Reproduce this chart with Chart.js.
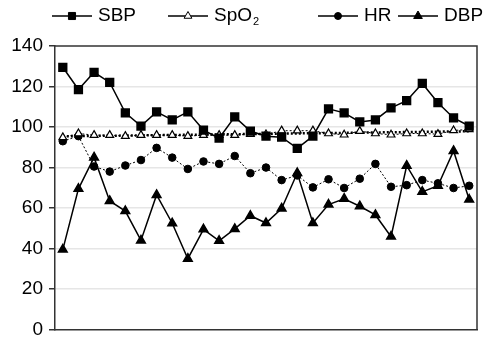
<!DOCTYPE html>
<html>
<head>
<meta charset="utf-8">
<script src="https://cdn.jsdelivr.net/npm/chart.js@4/dist/chart.umd.min.js"></script>
<style>
  html, body { margin: 0; padding: 0; background: #fff; }
  #wrap { width: 485px; height: 347px; }
</style>
</head>
<body>
<div id="wrap"><canvas id="chart" width="485" height="347"></canvas></div>
<script>
// categories (measurement points, no visible labels)
const labels = ['1','2','3','4','5','6','7','8','9','10','11','12','13','14','15','16','17','18','19','20','21','22','23','24','25','26','27'];

// series values
const sbp  = [129.5,118.5,127,122,107,100.5,107.5,103.5,107.5,98.5,94.5,105,98,95.5,95,89.5,95.5,109,107,102.5,103.5,109.5,113,121.5,112,104.5,100.5];
const spo2 = [94.9,96.8,96,96,95.5,96,96,96,95.5,96,96,96,96.5,96.3,98.2,98.2,98.2,96.8,96.2,98,96.8,96.2,96.8,96.8,96.5,98.3,98.8];
const hr   = [93,95.5,80.5,78,81,83.7,89.7,84.9,79.3,83,81.8,85.7,77.2,80,73.8,76.1,70.2,74.2,69.9,74.5,81.8,70.5,71.3,73.8,72.2,69.9,71];
const dbp  = [39.5,69.5,85,63.5,58.5,44,66.5,52.5,35,49.5,43.8,49.7,56.2,52.6,59.8,77.3,52.6,61.7,64.6,60.9,56.6,45.9,80.9,68,71,88.2,64.2];
// SpO2 trend line: only its two end values
const trend = [95.4,null,null,null,null,null,null,null,null,null,null,null,null,null,null,null,null,null,null,null,null,null,null,null,null,null,97.9];

// y axis ticks
const yTicks = [0, 20, 40, 60, 80, 100, 120, 140];

const FONT = '"Liberation Sans", Arial, sans-serif';

// legend entries drawn on the canvas (line + marker + text)
const legendItems = [
  { text: 'SBP', sub: '', x: 52, style: 'rect', radius: 5, fill: '#000' },
  { text: 'SpO', sub: '2', x: 168, style: 'triangle', radius: 4.5, fill: '#fff' },
  { text: 'HR', sub: '', x: 318, style: 'circle', radius: 3.5, fill: '#000' },
  { text: 'DBP', sub: '', x: 398, style: 'triangle', radius: 5, fill: '#000' }
];

const legendPlugin = {
  id: 'customLegend',
  afterDraw(chart) {
    const ctx = chart.ctx;
    const y = 16;
    ctx.save();
    legendItems.forEach(it => {
      ctx.strokeStyle = '#000';
      ctx.lineWidth = 1.5;
      ctx.setLineDash([]);
      ctx.beginPath();
      ctx.moveTo(it.x, y);
      ctx.lineTo(it.x + 40, y);
      ctx.stroke();
      ctx.fillStyle = it.fill;
      ctx.lineWidth = 1;
      Chart.helpers.drawPoint(ctx, { pointStyle: it.style, radius: it.radius, rotation: 0, borderWidth: 1 }, it.x + 20, y);
      ctx.fillStyle = '#000';
      ctx.font = '19px ' + FONT;
      ctx.textBaseline = 'middle';
      ctx.textAlign = 'left';
      const tx = it.x + 46;
      ctx.fillText(it.text, tx, y);
      if (it.sub) {
        const w = ctx.measureText(it.text).width;
        ctx.font = '11px ' + FONT;
        ctx.fillText(it.sub, tx + w + 1, y + 6);
      }
    });
    ctx.restore();
  }
};

const boxPlugin = {
  id: 'plotBox',
  afterDatasetsDraw(chart) {
    const a = chart.chartArea;
    const ctx = chart.ctx;
    ctx.save();
    ctx.strokeStyle = '#333';
    ctx.lineWidth = 1.5;
    ctx.beginPath();
    ctx.moveTo(a.left, a.top);
    ctx.lineTo(a.right, a.top);
    ctx.lineTo(a.right, a.bottom);
    ctx.stroke();
    ctx.restore();
  }
};

new Chart(document.getElementById('chart').getContext('2d'), {
  type: 'line',
  data: {
    labels: labels,
    datasets: [
      {
        label: 'SBP', data: sbp,
        borderColor: '#000', borderWidth: 1.5,
        pointStyle: 'rect', pointRadius: 5.5,
        pointBackgroundColor: '#000', pointBorderColor: '#000',
        tension: 0
      },
      {
        label: 'SpO2', data: spo2,
        borderColor: '#000', borderWidth: 1, borderDash: [2, 2],
        pointStyle: 'triangle', pointRadius: 4.5, pointBorderWidth: 1.2,
        pointBackgroundColor: '#fff', pointBorderColor: '#000',
        tension: 0
      },
      {
        label: 'trend', data: trend, spanGaps: true,
        borderColor: '#000', borderWidth: 2.5, borderDash: [2, 2],
        pointRadius: 0, tension: 0
      },
      {
        label: 'HR', data: hr,
        borderColor: '#000', borderWidth: 1, borderDash: [2, 2],
        pointStyle: 'circle', pointRadius: 3.8,
        pointBackgroundColor: '#000', pointBorderColor: '#000',
        tension: 0
      },
      {
        label: 'DBP', data: dbp,
        borderColor: '#000', borderWidth: 1.5,
        pointStyle: 'triangle', pointRadius: 5,
        pointBackgroundColor: '#000', pointBorderColor: '#000',
        tension: 0
      }
    ]
  },
  options: {
    responsive: false,
    animation: false,
    layout: { padding: { top: 46, right: 8, bottom: 9, left: 0 } },
    plugins: {
      legend: { display: false },
      tooltip: { enabled: false }
    },
    scales: {
      x: {
        offset: true,
        ticks: { display: false },
        grid: { display: false },
        border: { display: true, color: '#333', width: 1.5 },
        afterFit(scale) { scale.height = 0; }
      },
      y: {
        min: yTicks[0],
        max: yTicks[yTicks.length - 1],
        afterBuildTicks(scale) { scale.ticks = yTicks.map(v => ({ value: v })); },
        ticks: { color: '#000', font: { family: FONT, size: 19 }, padding: 6 },
        grid: {
          color: ctx => (ctx.tick && (ctx.tick.value === 0 || ctx.tick.value === 140)) ? 'rgba(0,0,0,0)' : '#e6e6e6',
          lineWidth: 1.5,
          tickLength: 6,
          tickColor: '#333'
        },
        border: { display: true, color: '#333', width: 1.5 },
        afterFit(scale) { scale.width = 55; }
      }
    }
  },
  plugins: [legendPlugin, boxPlugin]
});
</script>
</body>
</html>
